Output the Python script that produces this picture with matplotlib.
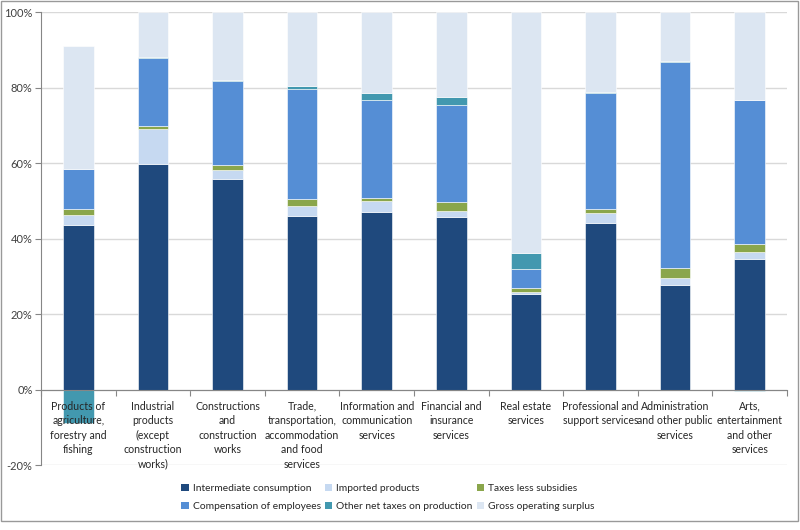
import matplotlib
matplotlib.use("Agg")
import matplotlib.pyplot as plt
import numpy as np
from matplotlib.patches import Rectangle, Patch
from matplotlib.ticker import PercentFormatter, FixedLocator

CATEGORIES = [
    "Products of\nagriculture,\nforestry and\nfishing",
    "Industrial\nproducts\n(except\nconstruction\nworks)",
    "Constructions\nand\nconstruction\nworks",
    "Trade,\ntransportation,\naccommodation\nand food\nservices",
    "Information and\ncommunication\nservices",
    "Financial and\ninsurance\nservices",
    "Real estate\nservices",
    "Professional and\nsupport services",
    "Administration\nand other public\nservices",
    "Arts,\nentertainment\nand other\nservices",
]

# shares in % of output
intermediate = [43.6, 59.8, 55.8, 46.0, 47.0, 45.7, 25.3, 44.2, 27.8, 34.7]
imported = [2.7, 9.1, 2.4, 2.5, 3.0, 1.6, 0.6, 2.5, 1.8, 1.6]
taxes = [1.5, 1.0, 1.2, 1.9, 0.8, 2.5, 0.9, 1.1, 2.6, 2.2]
compensation = [10.6, 17.9, 22.4, 29.2, 26.0, 25.7, 5.0, 30.7, 54.6, 38.3]
other_taxes = [-8.9, 0.3, 0.2, 0.7, 1.8, 2.0, 4.4, 0.2, 0.3, -0.4]
gross_surplus = [32.6, 11.9, 18.0, 19.6, 21.4, 22.5, 63.8, 21.3, 12.9, 23.2]

SERIES = [
    ("Intermediate consumption", intermediate, "#1f497d"),
    ("Imported products", imported, "#c6d9f1"),
    ("Taxes less subsidies", taxes, "#8aa64b"),
    ("Compensation of employees", compensation, "#558ed5"),
    ("Other net taxes on production", other_taxes, "#4298af"),
    ("Gross operating surplus", gross_surplus, "#dce6f2"),
]

plt.rcParams["font.family"] = ["Lato", "DejaVu Sans"]
plt.rcParams["axes.unicode_minus"] = False

fig = plt.figure(figsize=(8, 5.3), dpi=100)
ax = fig.add_axes([0.05125, 0.1226, 0.9325, 0.8547])

x = np.arange(len(CATEGORIES))
pos = np.zeros(len(x))
neg = np.zeros(len(x))
handles = {}
for name, vals, col in SERIES:
    v = np.array(vals, dtype=float)
    bottom = np.where(v >= 0, pos, neg)
    ax.bar(x, v, 0.41, bottom=bottom, color=col, edgecolor="white", linewidth=0.4, zorder=2)
    pos = pos + np.where(v >= 0, v, 0)
    neg = neg + np.where(v < 0, v, 0)
    handles[name] = Patch(facecolor=col, edgecolor="none")

ax.set_xlim(-0.5, len(x) - 0.5)
ax.set_ylim(-20, 100)
ax.yaxis.set_major_locator(FixedLocator([-20, 0, 20, 40, 60, 80, 100]))
ax.yaxis.set_major_formatter(PercentFormatter(decimals=0))
ax.grid(axis="y", color="#d9d9d9", lw=1, zorder=0)
ax.set_axisbelow(True)

for s in ["top", "right"]:
    ax.spines[s].set_visible(False)
ax.spines["left"].set_color("#868686")
ax.spines["bottom"].set_position(("data", 0))
ax.spines["bottom"].set_color("#868686")
ax.spines["bottom"].set_zorder(3)
ax.set_xticks(np.arange(-0.5, len(x), 1.0))
ax.set_xticklabels([])
ax.tick_params(axis="x", direction="out", length=4, color="#868686")
ax.tick_params(axis="y", direction="out", length=4, color="#868686",
               labelsize=8, labelcolor="#404040", pad=2)

for i, lab in enumerate(CATEGORIES):
    ax.text(i, -3.0, lab, ha="center", va="top", fontsize=7.6, color="#262626",
            linespacing=1.38, zorder=4)

order = ["Intermediate consumption", "Compensation of employees", "Imported products",
         "Other net taxes on production", "Taxes less subsidies", "Gross operating surplus"]
fig.legend([handles[n] for n in order], order, ncol=3, loc="center",
           bbox_to_anchor=(0.485, 0.062), frameon=False, fontsize=7.4,
           handlelength=0.7, handleheight=0.7, handletextpad=0.4,
           columnspacing=0.4, labelspacing=0.85, labelcolor="#262626")

fig.patches.append(Rectangle((1 / 800, 1 - 521 / 530), 797 / 800, 520 / 530,
                             transform=fig.transFigure, fill=False,
                             edgecolor="#999999", lw=1))

fig.savefig("out.png", dpi=100)
